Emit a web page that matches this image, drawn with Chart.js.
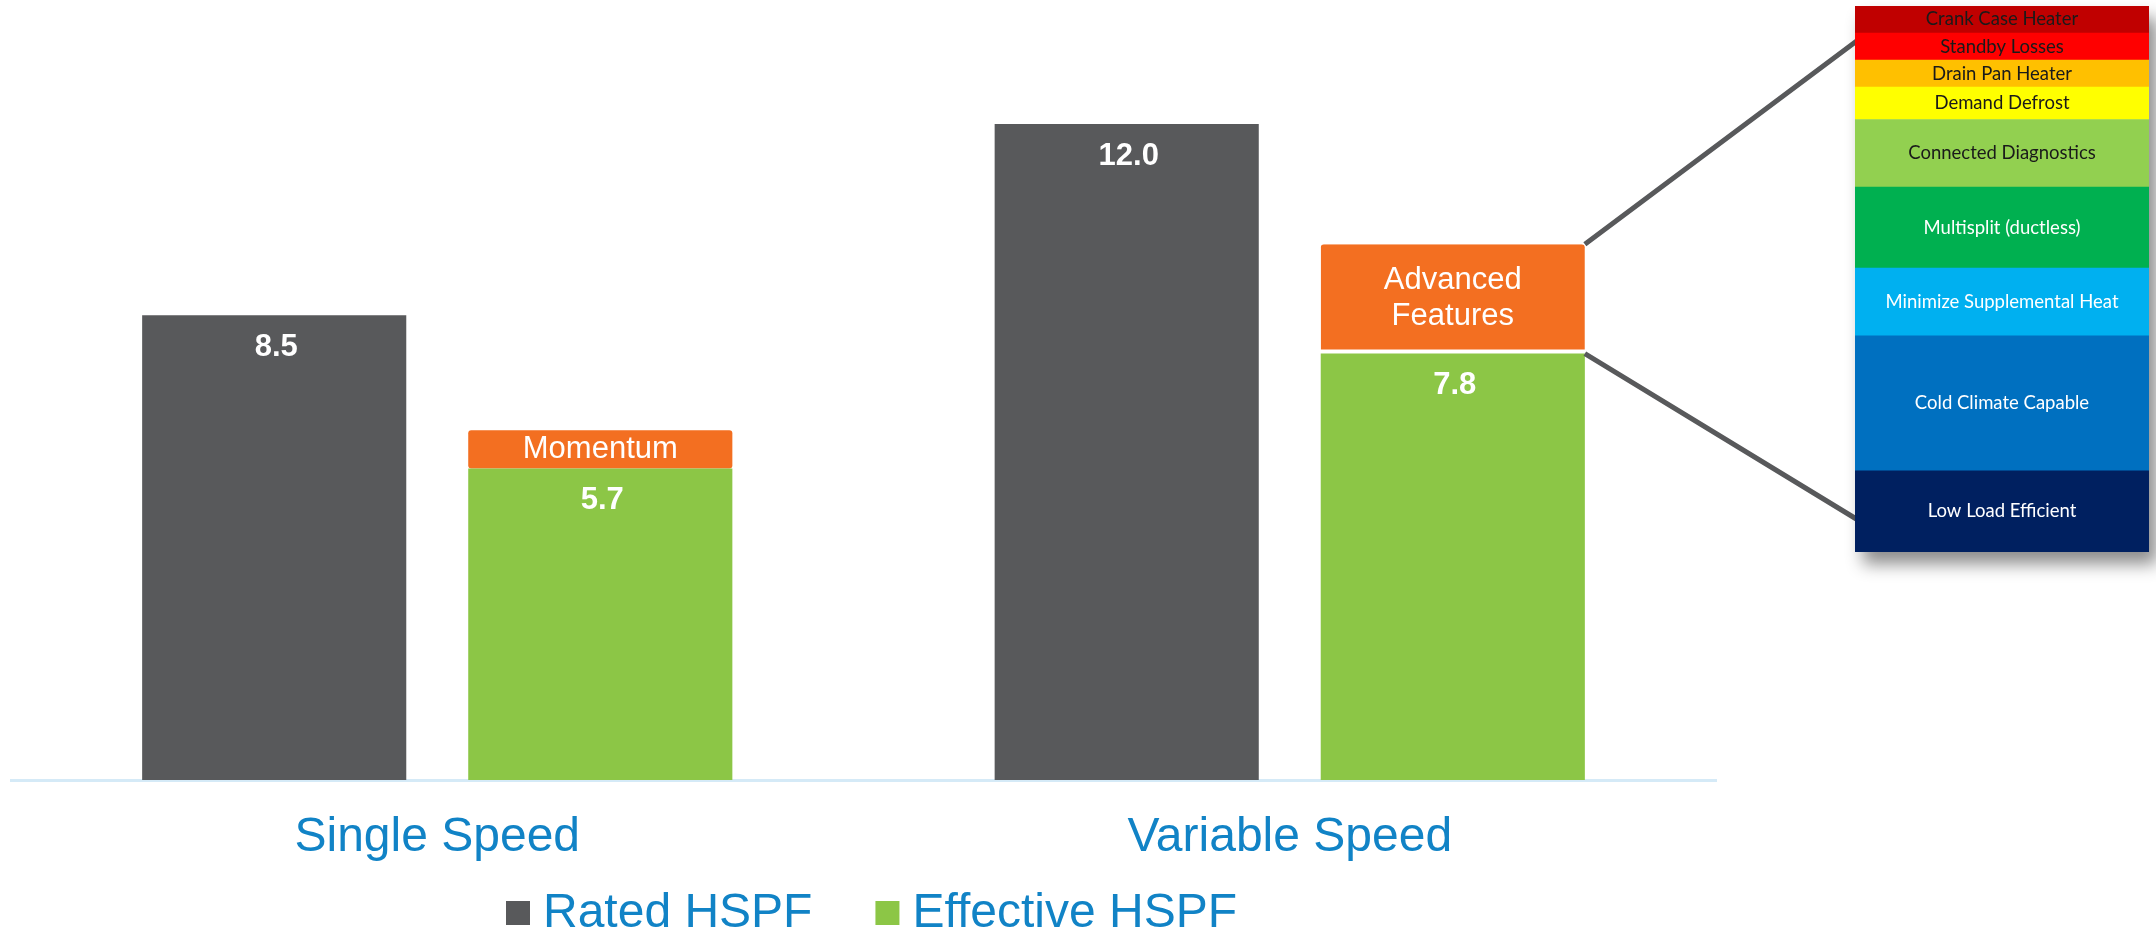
<!DOCTYPE html>
<html>
<head>
<meta charset="utf-8">
<script src="https://cdn.jsdelivr.net/npm/chart.js@4.4.1/dist/chart.umd.min.js"></script>
<style>
  html, body { margin: 0; padding: 0; background: #ffffff; }
  #wrap { position: relative; width: 2156px; height: 936px; overflow: hidden; }
  #main { position: absolute; left: 0; top: 0; }
  #panelBox { position: absolute; left: 1855px; top: 6px; width: 294px; height: 546px;
              box-shadow: 8px 12px 16px rgba(0,0,0,0.45); background: #fff; }
</style>
</head>
<body>
<div id="wrap">
  <canvas id="main" width="2156" height="936"></canvas>
  <div id="panelBox"><canvas id="panel" width="294" height="546"></canvas></div>
</div>
<script>
// Heating performance by equipment type
const categories = ['Single Speed', 'Variable Speed'];
const ratedHSPF = [8.5, 12.0];
const effectiveHSPF = [5.7, 7.8];
const featureBoost = [0.7, 2.0];
const boostLabels = [['Momentum'], ['Advanced', 'Features']];

// Breakdown of the advanced-features segment, listed bottom to top
const featureNames = ['Low Load Efficient', 'Cold Climate Capable', 'Minimize Supplemental Heat',
  'Multisplit (ductless)', 'Connected Diagnostics', 'Demand Defrost', 'Drain Pan Heater',
  'Standby Losses', 'Crank Case Heater'];
const featureShares = [0.30, 0.50, 0.25, 0.30, 0.25, 0.12, 0.10, 0.10, 0.10];

const featureFill = ['#002060', '#0070c0', '#00b0f0', '#00b050', '#92d050', '#ffff00', '#ffc000', '#ff0000', '#c00000'];
const featureInk  = ['#ffffff', '#ffffff', '#ffffff', '#ffffff', '#1a1a1a', '#1a1a1a', '#1a1a1a', '#1a1a1a', '#1a1a1a'];

const GRAY = '#58595b', GREEN = '#8cc646', ORANGE = '#f36f21', BLUE = '#1183c6';
const SANS = '"Liberation Sans", Arial, sans-serif';

// In-bar value labels and the orange segment captions
const barLabels = {
  id: 'barLabels',
  afterDatasetsDraw(chart) {
    const ctx = chart.ctx;
    ctx.save();
    ctx.fillStyle = '#ffffff';
    ctx.textAlign = 'center';
    ctx.textBaseline = 'middle';
    [0, 1].forEach(di => {
      const meta = chart.getDatasetMeta(di);
      const values = chart.data.datasets[di].data;
      meta.data.forEach((el, i) => {
        ctx.font = 'bold 31px ' + SANS;
        ctx.fillText(values[i].toFixed(1), el.x + 2, el.y + 32);
      });
    });
    const om = chart.getDatasetMeta(2);
    om.data.forEach((el, i) => {
      const lines = boostLabels[i];
      const mid = (el.y + el.base) / 2;
      const lh = 36;
      ctx.font = '31px ' + SANS;
      lines.forEach((t, k) => {
        ctx.fillText(t, el.x, mid + (k - (lines.length - 1) / 2) * lh);
      });
    });
    ctx.restore();
  }
};

// Leader lines from the advanced-features segment to the breakdown panel
const leaders = {
  id: 'leaders',
  afterDraw(chart) {
    const el = chart.getDatasetMeta(2).data[1];
    const right = el.x + el.width / 2;
    const ctx = chart.ctx;
    ctx.save();
    ctx.strokeStyle = '#58595b';
    ctx.lineWidth = 5;
    ctx.beginPath();
    ctx.moveTo(right, el.y);
    ctx.lineTo(1858, 40);
    ctx.moveTo(right, el.base);
    ctx.lineTo(1858, 520);
    ctx.stroke();
    ctx.restore();
  }
};

// Series key under the category names
const seriesKey = {
  id: 'seriesKey',
  afterDraw(chart) {
    const ctx = chart.ctx;
    const items = [0, 1].map(i => ({
      text: chart.data.datasets[i].label,
      color: chart.data.datasets[i].backgroundColor
    }));
    const box = 24, gapText = 13, gapItem = 63;
    ctx.save();
    ctx.font = '48px ' + SANS;
    const widths = items.map(it => ctx.measureText(it.text).width);
    const total = widths.reduce((a, w) => a + box + gapText + w, 0) + gapItem * (items.length - 1);
    let x = (chart.chartArea.left + chart.chartArea.right) / 2 + 8 - total / 2;
    const cy = 913;
    ctx.textBaseline = 'middle';
    ctx.textAlign = 'left';
    items.forEach((it, i) => {
      ctx.fillStyle = it.color;
      ctx.fillRect(x, cy - 12, box, box);
      x += box + gapText;
      ctx.fillStyle = BLUE;
      ctx.fillText(it.text, x, cy + 1);
      x += widths[i] + gapItem;
    });
    ctx.restore();
  }
};

new Chart(document.getElementById('main'), {
  type: 'bar',
  data: {
    labels: categories,
    datasets: [
      { label: 'Rated HSPF', data: ratedHSPF, backgroundColor: GRAY, stack: 'rated' },
      { label: 'Effective HSPF', data: effectiveHSPF, backgroundColor: GREEN, stack: 'effective' },
      { label: 'Features', data: featureBoost, backgroundColor: ORANGE, stack: 'effective',
        borderRadius: 3, borderSkipped: false, borderColor: '#ffffff',
        borderWidth: ctx => ({ top: 0, left: 0, right: 0, bottom: ctx.dataIndex === 1 ? 4 : 0 }) }
    ]
  },
  options: {
    responsive: false,
    animation: false,
    devicePixelRatio: 1,
    categoryPercentage: 0.765,
    barPercentage: 0.81,
    layout: { padding: { left: 11, right: 440, top: 124, bottom: 0 } },
    plugins: {
      tooltip: { enabled: false },
      legend: { display: false }
    },
    scales: {
      x: {
        stacked: true,
        grid: { display: false, drawTicks: false },
        border: { display: true, color: '#d5eaf7', width: 3 },
        ticks: { color: BLUE, font: { size: 48, family: SANS }, padding: 29 },
        afterFit(scale) { scale.height = 156; }
      },
      y: { stacked: true, display: false, min: 0, max: 12 }
    }
  },
  plugins: [barLabels, leaders, seriesKey]
});

// Segment names written inside the breakdown panel
const panelLabels = {
  id: 'panelLabels',
  afterDatasetsDraw(chart) {
    const ctx = chart.ctx;
    ctx.save();
    ctx.textAlign = 'center';
    ctx.textBaseline = 'middle';
    ctx.font = '18.5px Lato, "Open Sans", sans-serif';
    chart.data.datasets.forEach((ds, i) => {
      const el = chart.getDatasetMeta(i).data[0];
      ctx.fillStyle = featureInk[i];
      ctx.fillText(ds.label, chart.chartArea.left + chart.chartArea.width / 2, (el.y + el.base) / 2);
    });
    ctx.restore();
  }
};

new Chart(document.getElementById('panel'), {
  type: 'bar',
  data: {
    labels: ['Advanced Features'],
    datasets: featureNames.map((name, i) => ({
      label: name,
      data: [featureShares[i]],
      backgroundColor: featureFill[i]
    }))
  },
  options: {
    responsive: false,
    animation: false,
    devicePixelRatio: 1,
    categoryPercentage: 1,
    barPercentage: 1,
    layout: { padding: 0 },
    plugins: { legend: { display: false }, tooltip: { enabled: false } },
    scales: {
      x: { stacked: true, display: false },
      y: { stacked: true, display: false, min: 0, max: 2.02 }
    }
  },
  plugins: [panelLabels]
});
</script>
</body>
</html>
